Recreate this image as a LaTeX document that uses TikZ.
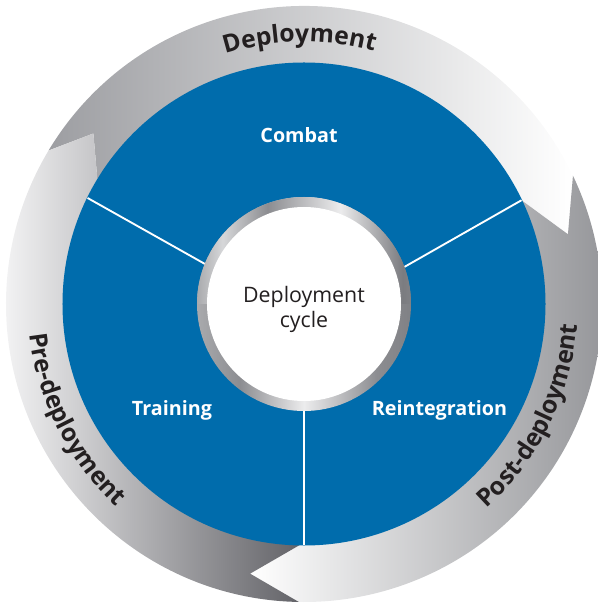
\documentclass[tikz,border=0pt]{standalone}
\usepackage{fontspec}
\setmainfont{Open Sans}
\usepackage{tikz}
\usetikzlibrary{decorations.text}

\definecolor{cycleblue}{RGB}{0,108,172}
\definecolor{ink}{HTML}{231F20}
\definecolor{depL}{HTML}{9D9EA2}
\definecolor{depM}{HTML}{B8B9BC}
\definecolor{postR}{HTML}{8A8B8F}
\definecolor{preL}{HTML}{F3F3F4}
\definecolor{preM}{HTML}{B4B5B8}
\definecolor{preR}{HTML}{636368}
\definecolor{ringA}{HTML}{A9AAAD}
\definecolor{ringB}{HTML}{D6D7D9}
\definecolor{ringC}{HTML}{8C8D91}
\definecolor{ringD}{HTML}{ECECED}
\definecolor{ringE}{HTML}{7B7C80}
\definecolor{ringF}{HTML}{808185}

\pgfdeclarehorizontalshading{ringhigh}{100bp}{color(0bp)=(ringA); color(25bp)=(ringA); color(31bp)=(ringB); color(41.5bp)=(ringC); color(58.5bp)=(ringD); color(73bp)=(ringE); color(75bp)=(ringF); color(100bp)=(ringF)}
\pgfdeclarehorizontalshading{ringlow}{100bp}{color(0bp)=(ringA); color(25bp)=(ringA); color(35bp)=(ringC); color(50bp)=(ringD); color(67bp)=(ringC); color(75bp)=(ringF); color(100bp)=(ringF)}

\newcommand{\ringfont}{\fontsize{18.5}{20}\selectfont\bfseries\color{ink}}

\tikzset{
	%	phase/.style={text=white,font=\bfseries},
	phase/.style={text=white, anchor=base, font=\fontsize{14.8}{17}\selectfont\bfseries},
	hub/.style={align=center, text=ink, font=\fontsize{16}{18.75}\selectfont},
	divider/.style={white, line width=1.4pt},
	ring label/.style={decorate, decoration={text along path, text align=center, text={|\ringfont|#1}}}
}

\begin{document}
\begin{tikzpicture}[x=0.75pt, y=0.75pt]
		\useasboundingbox (-304,-302) rectangle (293,304);
		
		% outer arrows
		\shade[left color=depL, middle color=depM, right color=white] (149:298) arc[start angle=149, end angle=25.5, radius=298] -- (14.8:273) -- (25.5:241) arc[start angle=25.5, end angle=149, radius=241] -- (141:271) -- cycle;
		\shade[left color=white, right color=postR] (25.5:298) arc[start angle=25.5, end angle=-91, radius=298] -- (-101.3:275) -- (-91:241) arc[start angle=-91, end angle=25.5, radius=241] -- (14.8:273) -- cycle;
		\shade[left color=preL, middle color=preM, right color=preR] (-91:298) arc[start angle=-91, end angle=-211, radius=298] -- (-219:271) -- (-211:241) arc[start angle=-211, end angle=-91, radius=241] -- (-101.3:275) -- cycle;
		
		\fill[cycleblue] (0,0) circle[radius=241.5];
		
		\coordinate (ul out) at (153.9:241);
		\coordinate (ul in) at (158.5:100);
		\coordinate (ur out) at (25.5:241);
		\coordinate (ur in) at (19.6:100);
		\coordinate (lo out) at (270:241);
		\coordinate (lo in) at (270:100);
		\draw[divider] (ul in) -- (ul out);
		\draw[divider] (ur in) -- (ur out);
		\draw[divider] (lo in) -- (lo out);
		
		% inner ring
		\shade[shading=ringlow] (0,0) circle[radius=107];
		\shade[shading=ringhigh] (107,0) arc[start angle=0, end angle=180, radius=107] -- cycle;
		\fill[white] (0,0) circle[radius=97];
		
		\node[hub] (hub) at (0,-5) {Deployment\\cycle};
		\node[phase] (combat) at (-5,161) {Combat};
		\node[phase] (training) at (-132,-111) {Training};
		\node[phase] (reintegration) at (135.5,-112) {Reintegration};
		
		\path[ring label=Deployment] (136:262) arc[start angle=136, end angle=46, radius=262];
		\path[ring label=Pre-deployment] (161.75:276) arc[start angle=161.75, end angle=251.75, radius=276];
		\path[ring label=Post-deployment] (-71.35:274) arc[start angle=-71.35, end angle=18.65, radius=274];
\end{tikzpicture}
\end{document}
